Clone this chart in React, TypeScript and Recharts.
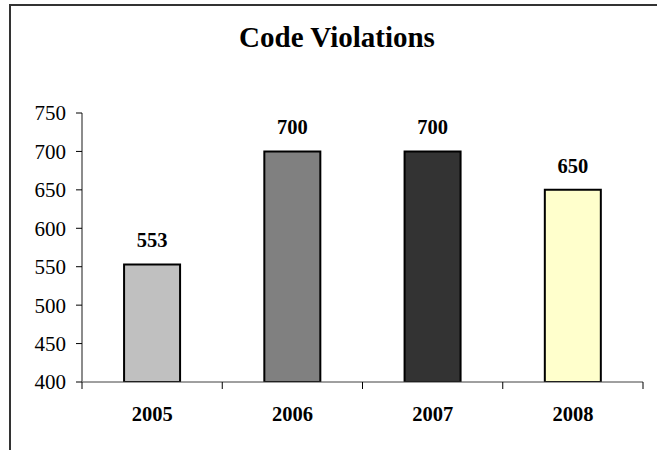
import React from "react";
import { BarChart, Bar, XAxis, YAxis, Cell, LabelList } from "recharts";

const years = ["2005", "2006", "2007", "2008"];
const violations = [553, 700, 700, 650];
const barColors = ["#c0c0c0", "#808080", "#333333", "#ffffcc"];
const yTicks = [400, 450, 500, 550, 600, 650, 700, 750];

const data = years.map((year, i) => ({ year, count: violations[i] }));

const W = 657;
const H = 450;
const M = { top: 113, right: 14, bottom: 0, left: 0 };
const Y_W = 82;
const BAND = (W - Y_W - M.left - M.right) / years.length;
const FONT = "Liberation Serif, DejaVu Serif, serif";

const YearTick = (props: any) => {
  const { x, y, payload, index } = props;
  return (
    <g>
      <line x1={x - BAND / 2} x2={x - BAND / 2} y1={y} y2={y + 7} stroke="#000" />
      {index === years.length - 1 && (
        <line x1={x + BAND / 2} x2={x + BAND / 2} y1={y} y2={y + 7} stroke="#000" />
      )}
      <text x={x} y={y + 39} textAnchor="middle" style={{ fontFamily: FONT, fontSize: 20.5, fontWeight: "bold" }} fill="#000">
        {payload.value}
      </text>
    </g>
  );
};

export default function App() {
  return (
    <div style={{ position: "absolute", left: 0, top: 0, width: W, height: H, background: "#fff", fontFamily: FONT }}>
      <svg width={W} height={H} style={{ position: "absolute", left: 0, top: 0 }}>
        <polyline points={`10,${H} 10,5 ${W},5`} fill="none" stroke="#333" strokeWidth={2} />
        <text x={337} y={47} textAnchor="middle" style={{ fontFamily: FONT, fontSize: 29, fontWeight: "bold" }} fill="#000">
          Code Violations
        </text>
      </svg>
      <div style={{ position: "absolute", left: 0, top: 0 }}>
        <BarChart width={W} height={H} data={data} margin={M} barCategoryGap="30%" style={{ fontFamily: FONT }}>
          <XAxis
            dataKey="year"
            height={68}
            tickSize={0}
            tickMargin={0}
            tickLine={false}
            axisLine={{ stroke: "#404040" }}
            tick={<YearTick />}
            interval={0}
          />
          <YAxis
            width={Y_W}
            domain={[400, 750]}
            ticks={yTicks}
            allowDataOverflow
            tickSize={6}
            tickMargin={10}
            axisLine={{ stroke: "#8c8c8c", strokeWidth: 2 }}
            tickLine={{ stroke: "#000" }}
            tick={{ fill: "#000", fontSize: 21, style: { fontFamily: FONT } }}
          />
          <Bar dataKey="count" stroke="#000" strokeWidth={2} isAnimationActive={false}>
            {data.map((d, i) => (
              <Cell key={d.year} fill={barColors[i]} />
            ))}
            <LabelList
              dataKey="count"
              position="top"
              offset={17}
              fill="#000"
              fontSize={20.5}
              fontWeight="bold"
              style={{ fontFamily: FONT }}
            />
          </Bar>
        </BarChart>
      </div>
    </div>
  );
}
